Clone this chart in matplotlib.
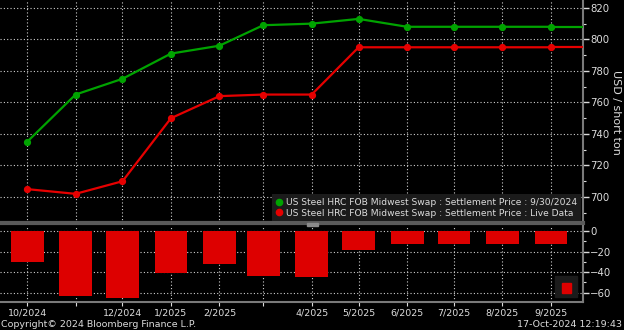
"""Bloomberg-style HRC swap curve: two settlement curves plus spread bars."""

import datetime as dt

import matplotlib.dates as mdates
import matplotlib.pyplot as plt
from matplotlib.lines import Line2D
from matplotlib.patches import Rectangle
from matplotlib.ticker import MultipleLocator

# contract months
months = ["2024-10", "2024-11", "2024-12", "2025-01", "2025-02", "2025-03",
          "2025-04", "2025-05", "2025-06", "2025-07", "2025-08", "2025-09"]
# settlement 9/30/2024
green_vals = [735, 765, 775, 791, 796, 809, 810, 813, 808, 808, 808, 808]
# live data
red_vals = [705, 702, 710, 750, 764, 765, 765, 795, 795, 795, 795, 795]
# spread bars (live - settlement)
spread_vals = [-30, -63, -65, -41, -32, -44, -45, -18, -13, -13, -13, -13]

label_months = ["2024-10", "2024-12", "2025-01", "2025-02", "2025-04",
                "2025-05", "2025-06", "2025-07", "2025-08", "2025-09"]

legend_labels = [
    "US Steel HRC FOB Midwest Swap : Settlement Price : 9/30/2024",
    "US Steel HRC FOB Midwest Swap : Settlement Price : Live Data",
]

BG = "#000000"
GREEN = "#00a300"
RED = "#e60000"
TXT = "#dcdcdc"
GRID = "#d0d0d0"
AXIS = "#7a7a7a"

dates = [dt.datetime.strptime(m, "%Y-%m") for m in months]
xmin = dt.datetime(2024, 9, 13, 16)
xmax = dt.datetime(2025, 9, 21, 12)

fig = plt.figure(figsize=(6.24, 3.30), dpi=100, facecolor=BG)
ax = fig.add_axes([0.0, 1 - 223 / 330, 583 / 624, 223 / 330], facecolor=BG)
axb = fig.add_axes([0.0, 1 - 302 / 330, 583 / 624, 76 / 330], facecolor=BG, sharex=ax)

# --- top panel: curves
ax.plot(dates, green_vals, color=GREEN, lw=1.6, marker="o", ms=4.2, zorder=4)
ax.plot(dates, red_vals, color=RED, lw=1.6, marker="o", ms=4.2, zorder=4)
ax.plot([dates[-1], xmax], [green_vals[-1]] * 2, color=GREEN, lw=1.6, zorder=4)
ax.plot([dates[-1], xmax], [red_vals[-1]] * 2, color=RED, lw=1.6, zorder=4)

ax.set_xlim(xmin, xmax)
ax.set_ylim(683.5, 825)
ax.yaxis.tick_right()
ax.yaxis.set_major_locator(MultipleLocator(20))
ax.yaxis.set_minor_locator(MultipleLocator(10))
fig.text(616.5 / 624, 1 - 112 / 330, "USD / short ton", color=TXT, fontsize=8,
         rotation=270, ha="center", va="center")

# --- bottom panel: spread bars
axb.bar(dates, spread_vals, width=21, color="#dd0000", zorder=3)
axb.set_ylim(-69, 5)
axb.yaxis.tick_right()
axb.yaxis.set_major_locator(MultipleLocator(20))
axb.yaxis.set_minor_locator(MultipleLocator(10))

axb.xaxis.set_major_locator(mdates.MonthLocator())
tick_labels = [f"{d.month}/{d.year}" if m in label_months else ""
               for d, m in zip(dates, months)]
axb.set_xticks(dates)
axb.set_xticklabels(tick_labels)
ax.tick_params(axis="x", which="both", length=0, labelbottom=False)

for a in (ax, axb):
    a.grid(True, which="major", color=GRID, ls=(0, (1, 2)), lw=0.8, zorder=1)
    a.tick_params(axis="y", which="major", colors=TXT, labelsize=7.3, length=4,
                  width=1, pad=1)
    a.tick_params(axis="y", which="minor", colors=TXT, length=2, width=0.8)
    for side in ("top", "left"):
        a.spines[side].set_visible(False)
    a.spines["right"].set_color(AXIS)
    a.spines["right"].set_linewidth(1.5)

ax.spines["bottom"].set_color("#5a5a5a")
ax.spines["bottom"].set_linewidth(3)
axb.spines["bottom"].set_color(AXIS)
axb.spines["bottom"].set_linewidth(1.5)
axb.tick_params(axis="x", colors=TXT, labelsize=6.8, length=3, width=0.8, pad=2)

# scrollbar thumb on the separator
fig.patches.append(Rectangle((307 / 624, 1 - 226 / 330), 11 / 624, 3 / 330,
                             transform=fig.transFigure, color="#8a8a8a", zorder=5))

# legends
handles = [Line2D([], [], ls="none", marker="o", ms=4.5, color=c) for c in (GREEN, RED)]
leg = ax.legend(handles, legend_labels, loc="lower right", fontsize=6.6,
                facecolor="#1b1b1b", edgecolor="none", framealpha=1, labelcolor=TXT,
                handlelength=0.6, handletextpad=0.5, borderpad=0.4, labelspacing=0.15,
                borderaxespad=0.2, fancybox=False)
leg.set_zorder(6)

axb.add_patch(Rectangle((0.952, 0.06), 0.038, 0.28, transform=axb.transAxes,
                        color="#1b1b1b", zorder=5))
axb.add_patch(Rectangle((0.964, 0.12), 0.016, 0.13, transform=axb.transAxes,
                        color="#dd0000", zorder=6))

fig.text(0.002, 0.003, "Copyright\u00a9 2024 Bloomberg Finance L.P.", color=TXT,
         fontsize=6.8, ha="left", va="bottom")
fig.text(0.996, 0.003, "17-Oct-2024 12:19:43", color=TXT, fontsize=6.8,
         ha="right", va="bottom")

fig.savefig("out.png", dpi=100, facecolor=BG)
